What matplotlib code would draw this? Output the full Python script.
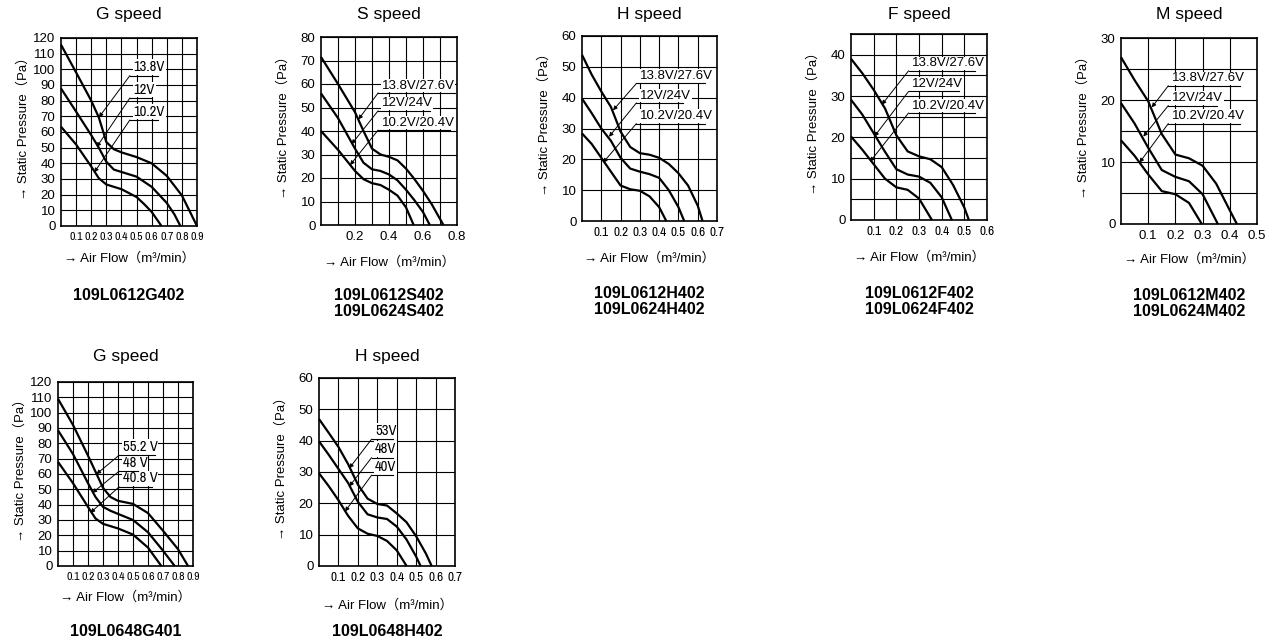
import numpy as np
import matplotlib
matplotlib.use('Agg')
from matplotlib import pyplot as plt

W, H = 1277, 642

# ---- 109L0612G402, G speed ----
g612_volts = ['13.8V', '12V', '10.2V']
g612_flow = [
    [0, 0.1, 0.2, 0.25, 0.3, 0.35, 0.4, 0.5, 0.6, 0.7, 0.8, 0.9],
    [0, 0.1, 0.2, 0.25, 0.3, 0.35, 0.4, 0.5, 0.6, 0.7, 0.75, 0.79],
    [0, 0.1, 0.2, 0.25, 0.3, 0.35, 0.4, 0.5, 0.55, 0.6, 0.665],
]
g612_pressure = [
    [115.7, 98, 80, 69.4, 53.6, 49, 47, 44, 40, 32, 19.5, 0],
    [87.8, 73, 58, 50, 41, 36, 34.5, 31.5, 25, 14.7, 7.5, 0],
    [63.4, 52, 38, 30.5, 26.5, 25, 23.5, 18.5, 14, 9, 0],
]

# ---- 109L0612S402 / 109L0624S402, S speed ----
s_volts = ['13.8V/27.6V', '12V/24V', '10.2V/20.4V']
s_flow = [
    [0, 0.1, 0.2, 0.25, 0.3, 0.35, 0.4, 0.45, 0.5, 0.55, 0.6, 0.65, 0.72],
    [0, 0.1, 0.2, 0.25, 0.3, 0.35, 0.4, 0.45, 0.5, 0.55, 0.6, 0.64],
    [0, 0.1, 0.2, 0.25, 0.3, 0.35, 0.4, 0.45, 0.5, 0.545],
]
s_pressure = [
    [71.5, 60, 48, 40, 32.5, 30, 29, 27.5, 24, 19.5, 14.5, 9, 0],
    [56, 45.5, 32.5, 26.5, 23.7, 23, 21.5, 19, 15, 10.5, 5.5, 0],
    [40, 32, 23, 19.5, 17.8, 17, 15, 12.5, 7.5, 0],
]

# ---- 109L0612H402 / 109L0624H402, H speed ----
h612_volts = ['13.8V/27.6V', '12V/24V', '10.2V/20.4V']
h612_flow = [
    [0, 0.05, 0.1, 0.15, 0.2, 0.25, 0.3, 0.35, 0.4, 0.45, 0.5, 0.55, 0.6, 0.625],
    [0, 0.05, 0.1, 0.15, 0.2, 0.25, 0.3, 0.35, 0.4, 0.45, 0.5, 0.53],
    [0, 0.05, 0.1, 0.15, 0.2, 0.25, 0.3, 0.35, 0.4, 0.437],
]
h612_pressure = [
    [53.9, 47.5, 42, 37, 29, 24, 22, 21.5, 20.5, 18.5, 15.5, 11.5, 5, 0],
    [39.7, 35, 30, 26, 20.5, 17, 16, 15.2, 14, 10, 4.5, 0],
    [28.4, 25, 20.5, 16, 11.5, 10.3, 9.8, 8, 4.5, 0],
]

# ---- 109L0612F402 / 109L0624F402, F speed ----
f_volts = ['13.8V/27.6V', '12V/24V', '10.2V/20.4V']
f_flow = [
    [0, 0.05, 0.1, 0.15, 0.2, 0.25, 0.3, 0.35, 0.4, 0.45, 0.5, 0.52],
    [0, 0.05, 0.1, 0.15, 0.2, 0.25, 0.3, 0.35, 0.4, 0.445],
    [0, 0.05, 0.1, 0.15, 0.2, 0.25, 0.3, 0.357],
]
f_pressure = [
    [39, 35.5, 31.5, 27, 20.5, 16.6, 15.4, 14.7, 12.8, 8.5, 3, 0],
    [29.1, 25.5, 21, 16.5, 12.3, 11, 10.5, 9, 5.5, 0],
    [20.2, 17, 13.5, 10, 7.9, 7.3, 5.2, 0],
]

# ---- 109L0612M402 / 109L0624M402, M speed ----
m_volts = ['13.8V/27.6V', '12V/24V', '10.2V/20.4V']
m_flow = [
    [0, 0.05, 0.1, 0.15, 0.2, 0.25, 0.3, 0.35, 0.4, 0.426],
    [0, 0.05, 0.1, 0.15, 0.2, 0.25, 0.3, 0.356],
    [0, 0.05, 0.1, 0.15, 0.2, 0.25, 0.297],
]
m_pressure = [
    [26.9, 23.2, 19.8, 14.5, 11.2, 10.6, 9.4, 6.5, 2.2, 0],
    [19.5, 16.2, 12.3, 8.7, 7.6, 6.9, 4.8, 0],
    [13.5, 11, 8, 5.3, 4.8, 3.4, 0],
]

# ---- 109L0648G401, G speed ----
g648_volts = ['55.2 V', '48 V', '40.8 V']
g648_flow = [
    [0, 0.1, 0.2, 0.25, 0.3, 0.35, 0.4, 0.5, 0.6, 0.7, 0.8, 0.867],
    [0, 0.1, 0.2, 0.25, 0.3, 0.35, 0.4, 0.5, 0.6, 0.7, 0.778],
    [0, 0.1, 0.2, 0.25, 0.3, 0.35, 0.4, 0.5, 0.6, 0.689],
]
g648_pressure = [
    [109, 92, 72, 61.5, 51, 45, 42.5, 40.5, 34.5, 23, 11, 0],
    [88.5, 73, 54, 45, 38.6, 36, 34, 30, 22, 10, 0],
    [67.9, 54, 38.5, 31, 27.5, 26, 24.5, 20.5, 12, 0],
]

# ---- 109L0648H402, H speed ----
h648_volts = ['53V', '48V', '40V']
h648_flow = [
    [0, 0.05, 0.1, 0.15, 0.2, 0.25, 0.3, 0.35, 0.4, 0.45, 0.5, 0.55, 0.58],
    [0, 0.05, 0.1, 0.15, 0.2, 0.25, 0.3, 0.35, 0.4, 0.45, 0.5, 0.523],
    [0, 0.05, 0.1, 0.15, 0.2, 0.25, 0.3, 0.35, 0.4, 0.451],
]
h648_pressure = [
    [46.9, 42.5, 38, 32.5, 26, 21.5, 19.8, 19.3, 16.8, 14, 9.5, 4, 0],
    [39.8, 35.5, 31, 26.5, 20.5, 16.5, 15.5, 15, 12.6, 8.5, 3, 0],
    [29.6, 25.5, 21, 16, 12, 10.3, 9.6, 8, 5, 0],
]

REG = ['Liberation Sans', 'Noto Sans CJK JP', 'DejaVu Sans']
NARROW = ['Archivo Narrow', 'Liberation Sans Narrow', 'Liberation Sans']
plt.rcParams['font.family'] = REG

fig = plt.figure(figsize=(W / 100, H / 100), dpi=100)


def draw_panel(rect, title, xmax, ymax, xlab_step, ygrid, ylab_step,
               flows, pressures, volts, tips, anchor_x, line_y, line_end,
               model, xlabel_y, model_y, tick_font, tick_size, lab_font, lab_size):
    left, top, right, bottom = rect
    ax = fig.add_axes([left / W, 1 - bottom / H, (right - left) / W, (bottom - top) / H])
    ax.set_xlim(0, xmax)
    ax.set_ylim(0, ymax)

    n = int(round(xmax * 10))
    xt = [i / 10 for i in range(1, n + 1)]
    ax.set_xticks(xt, minor=True)
    k = int(round(xlab_step * 10))
    xlab = [i / 10 for i in range(k, n + 1, k)]
    ax.set_xticks(xlab)
    ax.set_xticklabels([f'{v:.1f}' for v in xlab], family=tick_font, size=tick_size)

    ax.set_yticks(np.arange(0, ymax + 0.1, ygrid), minor=True)
    yl = np.arange(0, ymax + 0.1, ylab_step)
    ax.set_yticks(yl)
    ax.set_yticklabels([f'{int(v)}' for v in yl], size=9.5)

    ax.tick_params(which='both', length=0)
    ax.tick_params(axis='x', pad=4)
    ax.tick_params(axis='y', pad=4)
    ax.grid(which='both', color='black', lw=0.8)
    ax.set_axisbelow(True)
    for s in ax.spines.values():
        s.set_linewidth(1.2)

    for fx, fy in zip(flows, pressures):
        ax.plot(fx, fy, color='black', lw=1.6, solid_capstyle='butt', zorder=3, clip_on=False)

    for name, (tx, ty), ly, lx in zip(volts, tips, line_y, line_end):
        ax.annotate(name, xy=(anchor_x, ly), xytext=(2.5, 1.0), textcoords='offset points',
                    ha='left', va='bottom', family=lab_font, size=lab_size,
                    bbox=dict(facecolor='white', edgecolor='none', pad=0.6), zorder=4)
        ax.plot([anchor_x, lx], [ly, ly], color='black', lw=0.8, zorder=5)
        ax.annotate('', xy=(tx, ty), xytext=(anchor_x, ly),
                    arrowprops=dict(arrowstyle='-|>', color='black', lw=0.7,
                                    mutation_scale=6, shrinkA=0, shrinkB=0), zorder=5)

    cx = (left + right) / 2
    fig.text(cx / W, 1 - (15 if top < 300 else 357) / H, title,
             ha='center', va='center', size=12.5)
    fig.text(cx / W, 1 - xlabel_y / H, '→ Air Flow（m³/min）', ha='center', va='center', size=9.5)
    fig.text((left - 38) / W, 1 - ((top + bottom) / 2 - 7) / H, '→ Static Pressure（Pa）',
             ha='center', va='center', rotation=90, size=9.5)
    fig.text(cx / W, 1 - (model_y - 8) / H, model, ha='center', va='top',
             size=11.5, weight='bold', linespacing=1.05)
    return ax


draw_panel((61, 38, 197, 226), 'G speed', 0.9, 120, 0.1, 10, 10,
           g612_flow, g612_pressure, g612_volts,
           [(0.251, 69.4), (0.236, 50.4), (0.22, 34.2)], 0.456, [96, 81.7, 67.7], [0.641, 0.60, 0.641],
           '109L0612G402', 258, 296, NARROW, 8.5, NARROW, 10.5)

draw_panel((321, 37, 457, 225), 'S speed', 0.8, 80, 0.2, 10, 10,
           s_flow, s_pressure, s_volts,
           [(0.22, 44.9), (0.18, 34.4), (0.171, 25.5)], 0.336, [56.2, 48.6, 40.4], [0.79, 0.642, 0.76],
           '109L0612S402\n109L0624S402', 262, 296, REG, 9.5, REG, 9.5)

draw_panel((582, 36, 717, 221), 'H speed', 0.7, 60, 0.1, 10, 10,
           h612_flow, h612_pressure, h612_volts,
           [(0.161, 35.9), (0.14, 27.3), (0.109, 18.9)], 0.282, [44.6, 38.3, 31.6], [0.636, 0.523, 0.636],
           '109L0612H402\n109L0624H402', 258, 294, NARROW, 9.5, REG, 9.5)

draw_panel((851, 34, 987, 220), 'F speed', 0.6, 45, 0.1, 5, 10,
           f_flow, f_pressure, f_volts,
           [(0.136, 27.9), (0.103, 20.2), (0.084, 14.1)], 0.254, [36.1, 31.1, 25.9], [0.549, 0.475, 0.549],
           '109L0612F402\n109L0624F402', 257, 294, NARROW, 9.5, REG, 9.5)

draw_panel((1121, 38, 1257, 224), 'M speed', 0.5, 30, 0.1, 5, 10,
           m_flow, m_pressure, m_volts,
           [(0.113, 18.8), (0.082, 14.1), (0.068, 9.9)], 0.174, [22.3, 19.1, 16.2], [0.436, 0.353, 0.436],
           '109L0612M402\n109L0624M402', 259, 296, REG, 9.5, REG, 9.5)

draw_panel((58, 382, 193, 566), 'G speed', 0.9, 120, 0.1, 10, 10,
           g648_flow, g648_pressure, g648_volts,
           [(0.256, 59.9), (0.229, 47.7), (0.216, 34.7)], 0.407, [72.2, 61.8, 51.6], [0.644, 0.531, 0.629],
           '109L0648G401', 597, 632, NARROW, 8.5, NARROW, 10.5)

draw_panel((319, 378, 455, 566), 'H speed', 0.7, 60, 0.1, 10, 10,
           h648_flow, h648_pressure, h648_volts,
           [(0.156, 31.2), (0.156, 25.4), (0.134, 17.4)], 0.271, [40.5, 34.6, 29], [0.383, 0.383, 0.383],
           '109L0648H402', 605, 632, NARROW, 9.5, NARROW, 10.5)

fig.savefig('out.png', dpi=100)
